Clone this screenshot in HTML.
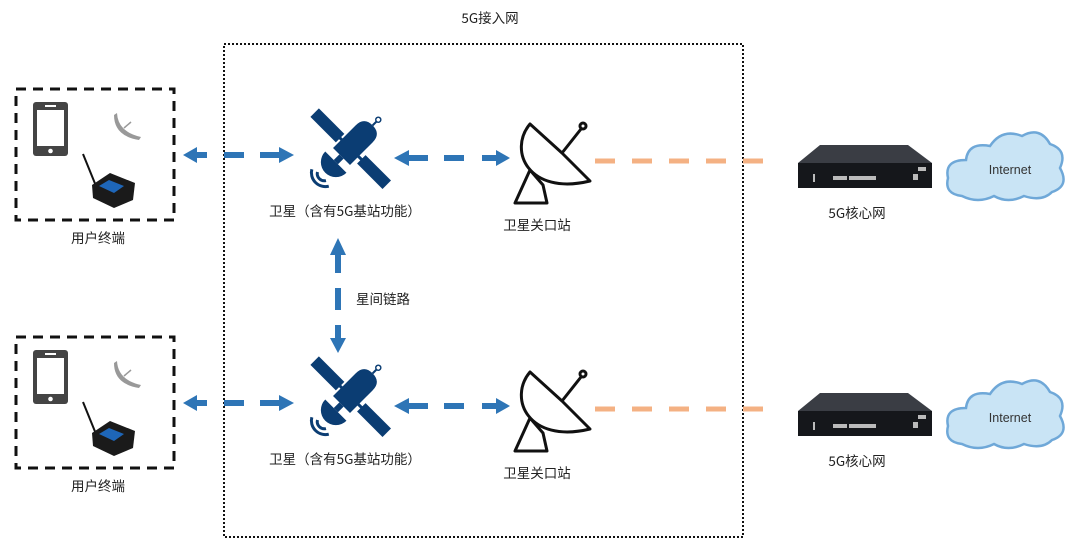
<!DOCTYPE html>
<html><head><meta charset="utf-8"><style>
html,body{margin:0;padding:0;background:#fff;}
svg{display:block;}
text{font-family:"Liberation Sans","Noto Sans CJK SC",sans-serif;}
.cn{font-family:"Noto Sans CJK SC",sans-serif;font-size:13.5px;fill:#222;}
</style></head><body>
<svg width="1080" height="552" viewBox="0 0 1080 552" xmlns="http://www.w3.org/2000/svg">
<defs>
  <g id="row">
    <rect x="16" y="89" width="158" height="131" fill="none" stroke="#111" stroke-width="3" stroke-dasharray="10,7"/>
    <text x="98" y="243" class="cn" text-anchor="middle">用户终端</text>
    <rect x="33" y="102" width="35" height="54" rx="3" fill="#444"/>
    <rect x="37" y="110" width="27" height="36" fill="#fff"/>
    <rect x="45" y="105" width="11" height="2" fill="#fff"/>
    <circle cx="50.5" cy="151" r="2.3" fill="#fff"/>
    <path d="M117,113 Q118,132 141,137 L139,140 Q114,136 114,115 Z" fill="#999"/>
    <line x1="124" y1="128" x2="131" y2="122" stroke="#999" stroke-width="1.5"/>
    <line x1="83" y1="154" x2="96" y2="186" stroke="#111" stroke-width="2"/>
    <polygon points="92,185 110,173 135,183 133,200 114,208 93,198" fill="#1a1a1a"/>
    <polygon points="99,186 109,180 124,186 114,193" fill="#1e66b8"/>
    <g fill="#2e75b6">
      <polygon points="183,155 197,147 197,152 207,152 207,158 197,158 197,163"/>
      <rect x="224" y="152" width="20" height="6"/>
      <polygon points="260,152 279,152 279,147 294,155 279,163 279,158 260,158"/>
      <polygon points="394,158 409,150 409,155 428,155 428,161 409,161 409,166"/>
      <rect x="444" y="155" width="20" height="6"/>
      <polygon points="482,155 496,155 496,150 510,158 496,166 496,161 482,161"/>
    </g>
    <g transform="translate(350,148) rotate(45)" fill="#0b3d73">
      <rect x="-50" y="-6" width="36" height="12"/>
      <rect x="16" y="-6" width="36" height="12"/>
      <rect x="-16" y="-1.5" width="34" height="3"/>
      <path d="M-12,12 L-12,-20 Q-12,-32 0,-32 Q12,-32 12,-20 L12,12 Z"/>
      <line x1="0" y1="-32" x2="0" y2="-38" stroke="#0b3d73" stroke-width="2"/>
      <circle cx="0" cy="-40" r="2.5" fill="none" stroke="#0b3d73" stroke-width="1.5"/>
      <rect x="-3" y="12" width="6" height="8"/>
      <path d="M-15,20 L15,20 A15,15 0 0 1 -15,20 Z"/>
      <path d="M-12,42 A14,14 0 0 0 12,42" fill="none" stroke="#0b3d73" stroke-width="3"/>
      <path d="M-6,40 A7,7 0 0 0 6,40" fill="none" stroke="#0b3d73" stroke-width="3"/>
    </g>
    <text x="345" y="216" class="cn" text-anchor="middle">卫星（含有5G基站功能）</text>
    <g fill="none" stroke="#111" stroke-width="3" stroke-linejoin="round">
      <path d="M530,124 C508,150 528,196 590,181 L562,153 Z" fill="#fff"/>
      <line x1="562" y1="153" x2="581" y2="129"/>
      <circle cx="583" cy="126" r="3"/>
      <polygon points="530,170 515,203 547,203 543,185" fill="#fff"/>
    </g>
    <text x="537" y="230" class="cn" text-anchor="middle">卫星关口站</text>
    <line x1="595" y1="161" x2="765" y2="161" stroke="#f4b183" stroke-width="5" stroke-dasharray="20,17"/>
    <polygon points="820,145 908,145 932,163 798,163" fill="#3a3d44"/>
    <rect x="798" y="163" width="134" height="25" fill="#15171b"/>
    <g fill="#bbb">
      <rect x="833" y="176" width="14" height="4"/><rect x="849" y="176" width="14" height="4"/>
      <rect x="856" y="176" width="20" height="4"/>
      <rect x="813" y="174" width="2" height="8"/>
      <rect x="913" y="174" width="5" height="6"/>
      <rect x="918" y="167" width="8" height="4"/>
    </g>
    <text x="857" y="218" class="cn" text-anchor="middle">5G核心网</text>
    <path d="M962,196 Q944,194 948,178 Q944,160 966,160 Q968,142 990,146 Q1002,128 1022,136 Q1040,126 1050,144 Q1068,150 1060,168 Q1070,186 1052,192 Q1042,202 1024,196 Q1008,204 994,196 Q978,204 962,196 Z" fill="#c9e4f5" stroke="#6fa8d8" stroke-width="2.5"/>
    <text x="1010" y="174" text-anchor="middle" font-size="12.5" fill="#333">Internet</text>
  </g>
</defs>
<text x="490" y="23" class="cn" text-anchor="middle">5G接入网</text>
<rect x="224" y="44" width="519" height="493" fill="none" stroke="#111" stroke-width="2" stroke-dasharray="2,2"/>
<use href="#row"/>
<use href="#row" transform="translate(0,248)"/>
<g fill="#2e75b6">
  <polygon points="338,238 346,255 341,255 341,273 335,273 335,255 330,255"/>
  <rect x="335" y="288" width="6" height="22"/>
  <polygon points="335,325 341,325 341,338 346,338 338,353 330,338 335,338"/>
</g>
<text x="383" y="304" class="cn" text-anchor="middle">星间链路</text>
</svg>
</body></html>
